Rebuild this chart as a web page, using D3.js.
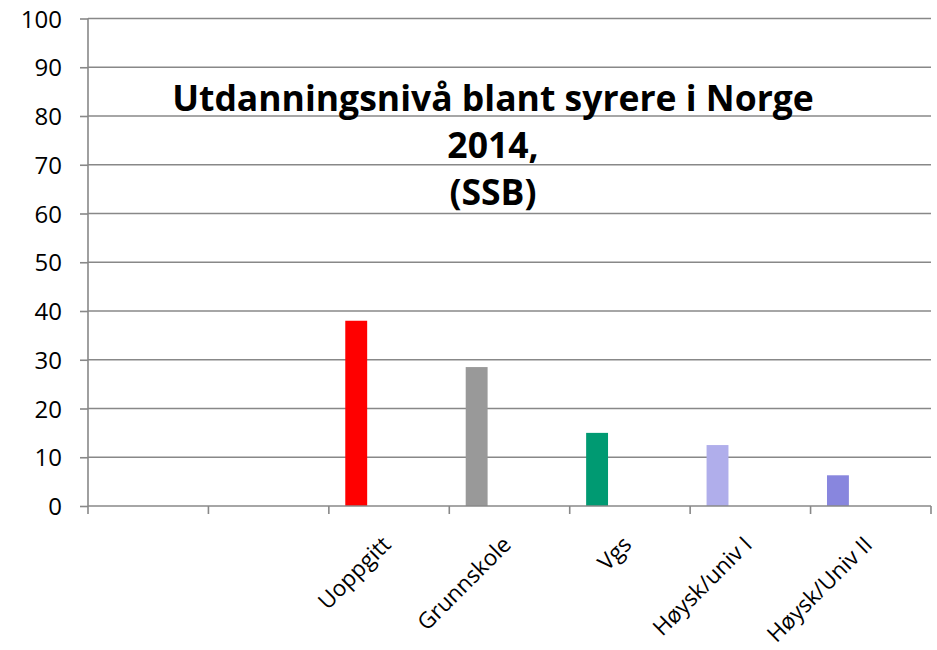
<!DOCTYPE html>
<html>
<head>
<meta charset="utf-8">
<script src="https://cdn.jsdelivr.net/npm/d3@7"></script>
<style>
  body { margin: 0; background: #fff; }
  text { font-family: "Open Sans", sans-serif; fill: #000; }
</style>
</head>
<body>
<script>
// data
var categories = ["", "", "Uoppgitt", "Grunnskole", "Vgs", "Høysk/univ I", "Høysk/Univ II"];
var values = [null, null, 38, 28.5, 15, 12.5, 6.3];
var barColors = ["#ffffff", "#ffffff", "#ff0000", "#999999", "#009a72", "#b0aeeb", "#8886de"];
var series = ["s1", "s2", "s3", "s4"];   // clustered slots, only first one filled
var yTicks = [0, 10, 20, 30, 40, 50, 60, 70, 80, 90, 100];
var titleLines = ["Utdanningsnivå blant syrere i Norge", "2014,", "(SSB)"];

var width = 937, height = 650;
var margin = {top: 18.5, right: 6, bottom: 144, left: 88};
var w = width - margin.left - margin.right,
    h = height - margin.top - margin.bottom;

var svg = d3.select("body").append("svg")
    .attr("width", width)
    .attr("height", height);

var g = svg.append("g")
    .attr("transform", "translate(" + margin.left + "," + margin.top + ")");

var x = d3.scaleBand().domain(d3.range(categories.length)).range([0, w]);
var x1 = d3.scaleBand().domain(series).range([0, x.bandwidth()])
    .paddingInner(0).paddingOuter(0.75);
var y = d3.scaleLinear().domain([0, 100]).range([h, 0]);

var grey = "#888888";

// gridlines
g.append("g").selectAll("line")
  .data(yTicks.filter(function(d) { return d > 0; }))
  .enter().append("line")
    .attr("x1", 0).attr("x2", w)
    .attr("y1", function(d) { return y(d); })
    .attr("y2", function(d) { return y(d); })
    .attr("stroke", grey).attr("stroke-width", 1.6);

// y axis
var yAxis = g.append("g")
    .call(d3.axisLeft(y).tickValues(yTicks).tickSize(8).tickPadding(18));
yAxis.selectAll("line").attr("stroke", grey).attr("stroke-width", 1.6);
yAxis.select(".domain").attr("stroke", grey).attr("stroke-width", 1.6)
    .attr("d", "M0," + h + "V0");
yAxis.selectAll("text")
    .style("font-size", "24px")
    .style("font-family", "'Open Sans', sans-serif")
    .attr("dy", "0.36em");

// bars
g.append("g").selectAll("rect")
  .data(values.map(function(v, i) { return {i: i, v: v}; })
    .filter(function(d) { return d.v !== null; }))
  .enter().append("rect")
    .attr("x", function(d) { return x(d.i) + x1(series[0]); })
    .attr("width", x1.bandwidth())
    .attr("y", function(d) { return y(d.v); })
    .attr("height", function(d) { return h - y(d.v); })
    .attr("fill", function(d) { return barColors[d.i]; });

// x axis
var xAxis = g.append("g")
    .attr("transform", "translate(0," + h + ")");
xAxis.append("line")
    .attr("x1", 0).attr("x2", w)
    .attr("stroke", grey).attr("stroke-width", 1.6);
xAxis.selectAll("line.tick")
  .data(d3.range(categories.length + 1))
  .enter().append("line")
    .attr("class", "tick")
    .attr("x1", function(d) { return d * x.step(); })
    .attr("x2", function(d) { return d * x.step(); })
    .attr("y1", 0).attr("y2", 8)
    .attr("stroke", grey).attr("stroke-width", 1.6);
xAxis.selectAll("text")
  .data(categories)
  .enter().append("text")
    .attr("transform", function(d, i) {
      return "translate(" + (x(i) + x.bandwidth() / 2 + 3) + ",40) rotate(-45)";
    })
    .attr("text-anchor", "end")
    .style("font-size", "22.5px")
    .text(function(d) { return d; });

// title
svg.append("g").selectAll("text")
  .data(titleLines)
  .enter().append("text")
    .attr("x", 493)
    .attr("y", function(d, i) { return 111 + i * 47; })
    .attr("text-anchor", "middle")
    .style("font-size", "35.5px")
    .style("font-weight", "bold")
    .text(function(d) { return d; });
</script>
</body>
</html>
